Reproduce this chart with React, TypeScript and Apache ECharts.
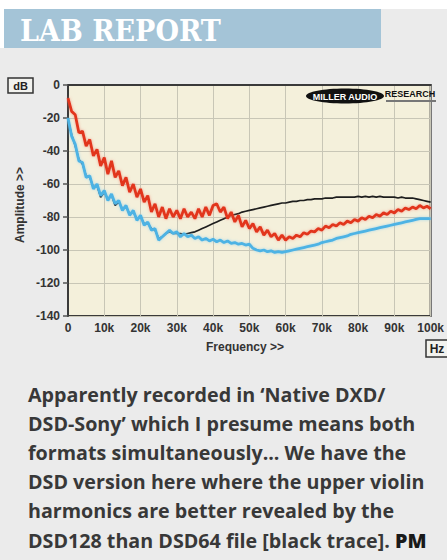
import React, { useEffect, useRef } from "react";
import * as echarts from "echarts";

const FREQ_STEP_HZ = 1000;
const X_TICK_LABELS = ["0", "10k", "20k", "30k", "40k", "50k", "60k", "70k", "80k", "90k", "100k"];
const Y_TICKS = [0, -20, -40, -60, -80, -100, -120, -140];

// red trace (dB), 0..100 kHz in 1 kHz steps
const RED_DB = [
  -8, -16, -18, -29, -28, -37, -33, -43, -39, -49,
  -44, -54, -46, -56, -52, -61, -56, -65, -60, -68,
  -63, -71, -67, -77, -72, -80, -74, -81, -75, -80,
  -76, -81, -75, -80, -77, -81, -75, -80, -74, -79,
  -73, -72, -77, -74, -81, -77, -83, -79, -86, -82,
  -87, -84, -89, -86, -91, -88, -92, -90, -94, -91,
  -94, -92, -93, -91, -92, -89.5, -90.5, -88.5, -89, -87,
  -88, -85.5, -86.5, -84.5, -85.5, -83.5, -84.5, -82.5, -83.5, -81.5,
  -82.5, -80.5, -81.5, -79.5, -80.5, -78.5, -79.5, -77.5, -78.5, -76.5,
  -77.5, -75.5, -76.5, -74.5, -75.5, -74, -75, -73, -74.5, -73.5,
  -75,
];

// blue trace
const BLUE_DB = [
  -20, -31, -36, -46, -47, -56, -55, -63, -60, -67,
  -64, -70, -66, -72, -70, -76, -73, -79, -76, -82,
  -79, -85, -83, -88, -87, -94, -92, -90, -88, -90,
  -89, -92, -90, -92, -91, -93, -92, -94, -93, -94.5,
  -93.5, -95, -94, -95.5, -94.5, -96, -95.5, -96.5, -96, -97,
  -96.5, -99, -100, -100.5, -100, -101, -100.5, -101.5, -101, -101.5,
  -101, -100.5, -100, -99.5, -99, -98.5, -98, -97.5, -97, -96.5,
  -95.5, -95, -94.5, -94, -93, -92.5, -92, -91.5, -90.5, -90,
  -89.5, -89, -88.5, -88, -87.5, -87, -86.5, -86, -85.5, -85,
  -84.5, -84, -83.5, -83, -82.5, -82, -81.5, -81, -81, -81,
  -81,
];

// black trace
const BLACK_DB = [
  -21, -30, -37, -45, -48, -55, -56, -62, -61, -68,
  -65, -69, -67, -73, -71, -75, -74, -78, -77, -81,
  -80, -84, -84, -87, -88, -93, -92, -90, -89, -90,
  -90, -90, -90.5, -90, -89.5, -89, -88, -87, -86, -85,
  -84, -83, -82, -81, -80, -79, -78.5, -78, -77, -76.5,
  -76, -75.5, -75, -74.5, -74, -73.5, -73, -72.5, -72, -71.5,
  -71.5, -71, -70.5, -70.5, -70, -70, -69.5, -69.5, -69, -69,
  -69, -68.5, -68.5, -68.5, -68, -68, -68, -68, -68, -68,
  -67.5, -68, -67.5, -68, -67.5, -68, -67.5, -68, -68, -68,
  -68, -68.5, -68, -68.5, -68.5, -68.5, -69, -69.5, -70, -70.5,
  -71,
];

const PARAGRAPH_LINES = [
  "Apparently recorded in \u2018Native DXD/",
  "DSD-Sony\u2019 which I presume means both",
  "formats simultaneously... We have the",
  "DSD version here where the upper violin",
  "harmonics are better revealed by the",
  "DSD128 than DSD64 file [black trace]. {b|PM}",
];

const toPairs = (arr: number[]) => arr.map((v, i) => [i * FREQ_STEP_HZ, v]);

export default function App() {
  const ref = useRef<HTMLDivElement>(null);
  useEffect(() => {
    const chart = echarts.init(ref.current!, null, { renderer: "svg", width: 447, height: 560 });
    const axisFont = { fontFamily: "Liberation Sans, Arial, sans-serif", fontWeight: "bold" as const, fontSize: 12, color: "#333" };
    const paraText = PARAGRAPH_LINES.map((line, i) => ({
      type: "text",
      x: 28,
      y: 394 + i * 29.2,
      z: 10,
      style: {
        text: line,
        fill: "#383838",
        font: "bold 19.7px 'Open Sans', sans-serif",
        textAlign: "left",
        textVerticalAlign: "middle",
        rich: {
          b: { font: "800 19.7px 'Open Sans', sans-serif", fill: "#1a1a1a" },
        },
      },
    }));
    chart.setOption({
      animation: false,
      backgroundColor: "#ebebeb",
      grid: {
        left: 68,
        top: 85,
        width: 370,
        height: 231,
        show: true,
        backgroundColor: "#f4f0db",
        borderColor: "#3a3a3a",
        borderWidth: 2,
      },
      xAxis: {
        type: "value",
        min: 0,
        max: 100000,
        interval: 10000,
        axisLine: { show: true, lineStyle: { color: "#3a3a3a", width: 2 } },
        axisTick: { show: false },
        axisLabel: {
          ...axisFont,
          margin: 6,
          formatter: (v: number) => X_TICK_LABELS[Math.round(v / 10000)] ?? "",
        },
        splitLine: { show: true, lineStyle: { color: "#c8c6b6", width: 1 } },
      },
      yAxis: {
        type: "value",
        min: Y_TICKS[Y_TICKS.length - 1],
        max: Y_TICKS[0],
        interval: 20,
        axisLine: { show: true, lineStyle: { color: "#3a3a3a", width: 2 } },
        axisTick: { show: true, length: 5, lineStyle: { color: "#555", width: 1.5 } },
        axisLabel: { ...axisFont, margin: 8 },
        splitLine: { show: true, lineStyle: { color: "#c8c6b6", width: 1 } },
      },
      series: [
        {
          type: "line",
          data: toPairs(BLACK_DB),
          showSymbol: false,
          lineStyle: { color: "#1e1e1e", width: 1.7 },
          z: 2,
        },
        {
          type: "line",
          data: toPairs(BLUE_DB),
          showSymbol: false,
          lineStyle: { color: "#4db3e4", width: 2.8, shadowColor: "rgba(120,200,240,0.6)", shadowBlur: 3 },
          z: 3,
        },
        {
          type: "line",
          data: toPairs(RED_DB),
          showSymbol: false,
          lineStyle: { color: "#e2361c", width: 2.8, shadowColor: "rgba(240,110,90,0.6)", shadowBlur: 3 },
          z: 4,
        },
      ],
      graphic: [
        { type: "rect", shape: { x: 0, y: 0, width: 447, height: 9 }, style: { fill: "#ffffff" }, z: 1 },
        { type: "rect", shape: { x: 0, y: 0, width: 4, height: 48 }, style: { fill: "#ffffff" }, z: 1 },
        { type: "rect", shape: { x: 4, y: 9, width: 377, height: 39 }, style: { fill: "#a4c4d7" }, z: 1 },
        {
          type: "text",
          x: 20,
          y: 30,
          z: 2,
          style: {
            text: "LAB REPORT",
            fill: "#ffffff",
            font: "bold 30px 'DejaVu Serif Condensed', 'DejaVu Serif', serif",
            textAlign: "left",
            textVerticalAlign: "middle",
          },
        },
        // dB box
        { type: "rect", shape: { x: 8, y: 78, width: 25, height: 15 }, style: { fill: "#f2f2ee", stroke: "#333", lineWidth: 1.5 }, z: 2 },
        {
          type: "text", x: 20.5, y: 85.5, z: 3,
          style: { text: "dB", fill: "#222", font: "bold 11px 'Liberation Sans', Arial, sans-serif", textAlign: "center", textVerticalAlign: "middle" },
        },
        // Hz box
        { type: "rect", shape: { x: 426, y: 340, width: 24, height: 17 }, style: { fill: "#f2f2ee", stroke: "#333", lineWidth: 1.5 }, z: 2 },
        {
          type: "text", x: 437, y: 348.5, z: 3,
          style: { text: "Hz", fill: "#222", font: "bold 12px 'Liberation Sans', Arial, sans-serif", textAlign: "center", textVerticalAlign: "middle" },
        },
        // axis titles
        {
          type: "text", x: 20, y: 205, rotation: Math.PI / 2, z: 3,
          style: { text: "Amplitude >>", fill: "#333", font: "bold 12px 'Liberation Sans', Arial, sans-serif", textAlign: "center", textVerticalAlign: "middle" },
        },
        {
          type: "text", x: 245, y: 347, z: 3,
          style: { text: "Frequency >>", fill: "#333", font: "bold 12px 'Liberation Sans', Arial, sans-serif", textAlign: "center", textVerticalAlign: "middle" },
        },
        // logo
        { type: "ellipse", shape: { cx: 345, cy: 96, rx: 39, ry: 7.5 }, style: { fill: "#111" }, z: 20 },
        {
          type: "text", x: 345, y: 96.5, z: 21,
          style: { text: "MILLER AUDIO", fill: "#ffffff", font: "bold 9px 'Liberation Sans', Arial, sans-serif", textAlign: "center", textVerticalAlign: "middle" },
        },
        {
          type: "text", x: 410, y: 94, z: 21,
          style: { text: "RESEARCH", fill: "#111", font: "bold 9px 'Liberation Sans', Arial, sans-serif", textAlign: "center", textVerticalAlign: "middle" },
        },
        { type: "rect", shape: { x: 386, y: 100, width: 50, height: 2 }, style: { fill: "#777" }, z: 21 },
        ...paraText,
      ],
    });
    return () => chart.dispose();
  }, []);
  return <div ref={ref} style={{ position: "fixed", left: 0, top: 0, width: 447, height: 560 }} />;
}
